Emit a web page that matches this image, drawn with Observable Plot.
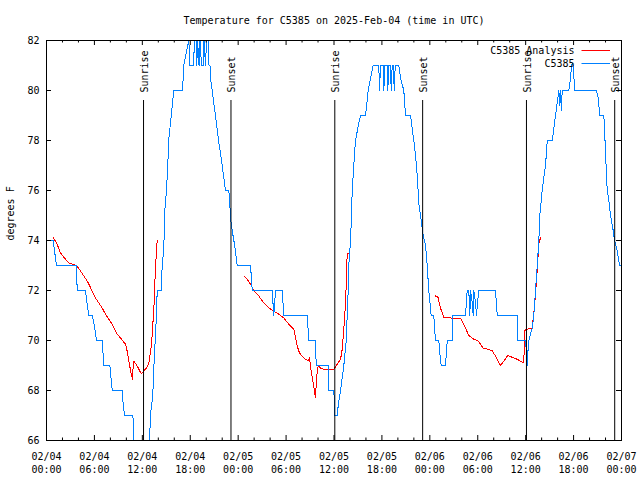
<!DOCTYPE html>
<html><head><meta charset="utf-8">
<script src="https://cdn.jsdelivr.net/npm/d3@7"></script>
<script src="https://cdn.jsdelivr.net/npm/@observablehq/plot@0.6"></script>
<style>body{margin:0;background:#fff} svg{display:block} g[aria-label="line"] path{shape-rendering:crispEdges}</style>
</head><body><div id="chart"></div>
<script>
const title = "Temperature for C5385 on 2025-Feb-04 (time in UTC)";
const yLabel = "degrees F";
const seriesNames = ["C5385 Analysis", "C5385"];
const seriesColors = ["#ff0000", "#0080ff"];
const xTicks = [0, 6, 12, 18, 24, 30, 36, 42, 48, 54, 60, 66, 72];
const xTickLabels = ["02/04\n00:00","02/04\n06:00","02/04\n12:00","02/04\n18:00","02/05\n00:00","02/05\n06:00","02/05\n12:00","02/05\n18:00","02/06\n00:00","02/06\n06:00","02/06\n12:00","02/06\n18:00","02/07\n00:00"];
const xMinorTicks = [2,4,8,10,14,16,20,22,26,28,32,34,38,40,44,46,50,52,56,58,62,64,68,70];
const yTicks = [66, 68, 70, 72, 74, 76, 78, 80, 82];
const sunHours = [12.15, 23.1, 36.1, 47.1, 60.1, 71.15];
const sunLabels = ["Sunrise","Sunset","Sunrise","Sunset","Sunrise","Sunset"];

// observations (hours since 2025-02-04 00:00 UTC, deg F)
const obsHours = [0.09,0.84,1.00,1.25,3.76,3.84,4.88,5.10,5.30,5.72,6.05,6.26,6.97,7.18,7.93,8.23,9.48,9.60,9.77,10.81,10.93,11.02,12.81,13.02,13.31,13.44,13.65,13.77,13.86,14.36,14.49,14.69,14.78,15.03,15.19,15.31,15.62,15.94,16.99,17.12,17.19,17.62,17.82,
17.97,18.41,18.53,18.72,18.82,18.91,19.10,19.22,19.41,19.60,19.72,19.91,20.04,20.22,20.35,20.47,20.54,20.75,20.95,21.16,21.35,21.54,21.79,22.00,22.41,22.83,22.95,23.04,23.25,23.54,23.88,
25.55,25.76,28.26,28.46,28.68,29.51,29.72,32.65,32.85,33.68,33.77,35.28,35.35,35.98,36.10,36.40,36.56,36.82,37.23,37.53,37.65,37.78,37.85,38.07,38.19,38.28,38.48,38.69,39.11,39.32,39.95,40.28,40.57,40.91,41.61,
41.70,41.82,42.14,42.24,42.36,42.64,42.74,42.86,43.08,43.16,43.29,43.45,43.54,43.67,44.12,44.33,44.74,44.96,45.58,45.79,45.99,46.21,46.42,46.62,46.83,47.17,47.46,47.67,47.87,48.17,48.50,48.59,48.71,49.12,49.25,49.42,49.96,50.18,50.80,50.88,52.47,
52.68,52.88,53.01,53.09,53.31,53.43,53.51,53.72,53.85,53.97,54.13,56.22,56.44,58.94,59.02,59.98,60.11,60.19,60.27,60.39,60.82,61.02,61.23,61.45,61.65,61.77,62.07,62.27,62.49,62.70,63.33,63.53,63.74,64.15,64.28,64.37,64.46,64.58,65.41,65.62,65.74,65.91,66.16,
68.87,69.08,69.29,69.79,69.91,70.00,70.21,70.42,70.63,70.96,71.13,71.46,71.75,72.00];
const obsTemps = [74,74,73.6,73,73,72,72,71.45,71,71,70.5,70,70,69,69,68,68,67.45,67,67,66.45,65,65,67.05,67.8,68.9,70.25,71.05,72,72,73,73.65,75.05,76.05,77.05,78.05,78.98,80,80,80.5,81,81.7,82,
81,81,82,82,81,82,81,82,81,81,82,81,82,82,81,81,80.5,80,79.5,79,78.5,78,77.5,77,76,76,75.5,74.9,74.4,73.85,73,
73,72,72,71,72,72,71,71,70,70,69,69,68,68,67,67,67.5,68,69,70,71,72,73,74,75,76,77,78,78.7,79,79,80,80.5,81,81,
80,81,81,80,81,81,80,81,81,80,81,81,80,81,81,80.5,80,79,79,78.5,78,77.4,76.6,75.5,75,74.2,73.8,73,72,71,71,70.5,70,70,69.5,69,69,70,70,71,71,
72,72,71,72,71.5,71,72,71.5,71,71.5,72,72,71,71,70,70,69.5,69,69.5,70,70.5,71,72,73,74,75,76,76.5,77,78,78,78.5,79,80,79.4,80,79.2,80,80,80.5,81,81.1,80,
80,79.7,79,79,78.2,77.5,76,75.6,75,74.4,74,73.6,73,73];

// analysis, three night-time segments
const anaHours1 = [0.79,1.34,1.75,2.25,2.79,3.26,3.76,4.26,4.63,5.10,5.72,6.14,6.55,6.97,7.39,7.80,8.23,8.85,9.27,9.89,10.08,10.31,10.61,10.77,10.86,10.93,11.36,11.86,12.18,12.52,12.81,13.15,13.44,13.65,13.86];
const anaTemps1 = [74.14,73.85,73.5,73.3,73.1,73.05,73.0,72.78,72.6,72.38,71.98,71.7,71.5,71.3,71.05,70.85,70.65,70.25,70.1,69.85,69.6,69.18,68.65,68.45,69.0,69.18,68.98,68.67,68.78,68.9,69.07,69.86,71.25,72.94,74.0];
const anaHours2 = [24.83,25.13,25.55,25.96,26.58,27.21,27.84,28.46,29.09,29.72,30.34,30.97,31.39,31.68,32.22,32.77,32.93,33.18,33.47,33.68,33.81,34.02,34.31,34.72,35.98,36.28,36.82,37.03,37.23,37.44,37.57,37.65,37.94];
const anaTemps2 = [72.55,72.45,72.25,71.98,71.78,71.5,71.3,71.18,71.05,70.9,70.65,70.45,69.78,69.5,69.3,69.18,69.3,68.7,68.18,67.7,68.5,69.0,68.9,68.85,68.85,69.0,69.25,69.65,70.45,71.5,72.55,73.5,73.5];
const anaHours3 = [48.71,49.00,49.34,49.75,50.59,51.84,52.26,52.88,53.51,54.01,54.68,55.81,56.35,56.85,57.77,58.94,59.77,59.86,60.19,60.82,61.02,61.23,61.45,61.65,61.86];
const anaTemps3 = [71.78,71.75,71.3,70.91,70.9,70.9,70.65,70.2,70.05,70.0,69.7,69.6,69.3,69.0,69.4,69.25,69.1,70.4,70.45,70.5,71.1,71.85,72.85,73.9,74.1];

const obs = obsHours.map((h, i) => ({h, t: obsTemps[i]}));
const analysis = [[anaHours1, anaTemps1], [anaHours2, anaTemps2], [anaHours3, anaTemps3]]
  .flatMap(([hs, ts], s) => hs.map((h, i) => ({h, t: ts[i], seg: s})));
const sunEvents = sunHours.map((h, i) => ({h, label: sunLabels[i]}));

const mono = "DejaVu Sans Mono";
const chart = Plot.plot({
  width: 640, height: 480,
  marginLeft: 46, marginRight: 19, marginTop: 40, marginBottom: 40,
  style: {fontFamily: mono, fontSize: "10px", background: "white", color: "black"},
  x: {domain: [0, 72], axis: null},
  y: {domain: [66, 82], axis: null},
  marks: [
    Plot.line(analysis, {x: "h", y: "t", z: "seg", stroke: seriesColors[0], strokeWidth: 1, clip: true}),
    Plot.line(obs, {x: "h", y: "t", stroke: seriesColors[1], strokeWidth: 1, clip: true}),
    Plot.ruleX(sunEvents, {x: "h", insetTop: 60, stroke: "black"}),
    Plot.text(sunEvents, {x: "h", frameAnchor: "top", dy: 52, dx: 1, rotate: -90, textAnchor: "start", lineAnchor: "middle", text: "label", fill: "black"}),
    Plot.frame({stroke: "black"}),
    Plot.ruleX(xTicks, {insetTop: 395, stroke: "black"}),
    Plot.ruleX(xTicks, {insetBottom: 395, stroke: "black"}),
    Plot.ruleX(xMinorTicks, {insetTop: 397.5, stroke: "black"}),
    Plot.ruleX(xMinorTicks, {insetBottom: 397.5, stroke: "black"}),
    Plot.ruleY(yTicks, {insetRight: 570, stroke: "black"}),
    Plot.ruleY(yTicks, {insetLeft: 570, stroke: "black"}),
    Plot.axisX({ticks: xTicks, tickSize: 0, tickPadding: 11, lineHeight: 1.25, label: null,
      tickFormat: d => xTickLabels[xTicks.indexOf(d)]}),
    Plot.axisY({ticks: yTicks, tickSize: 0, tickPadding: 7, label: null}),
    Plot.text([title], {frameAnchor: "top", dy: -20, lineAnchor: "middle"}),
    Plot.text([yLabel], {frameAnchor: "left", dx: -36, rotate: -90, lineAnchor: "middle"}),
    Plot.text([seriesNames[0]], {frameAnchor: "top-right", dx: -47, dy: 10, textAnchor: "end", lineAnchor: "middle"}),
    Plot.text([seriesNames[1]], {frameAnchor: "top-right", dx: -47, dy: 23, textAnchor: "end", lineAnchor: "middle"}),
    Plot.ruleY([82], {dy: 10, insetLeft: 535.5, insetRight: 11, stroke: seriesColors[0]}),
    Plot.ruleY([82], {dy: 23, insetLeft: 535.5, insetRight: 11, stroke: seriesColors[1]})
  ]
});
document.getElementById("chart").append(chart);
</script>
</body></html>
